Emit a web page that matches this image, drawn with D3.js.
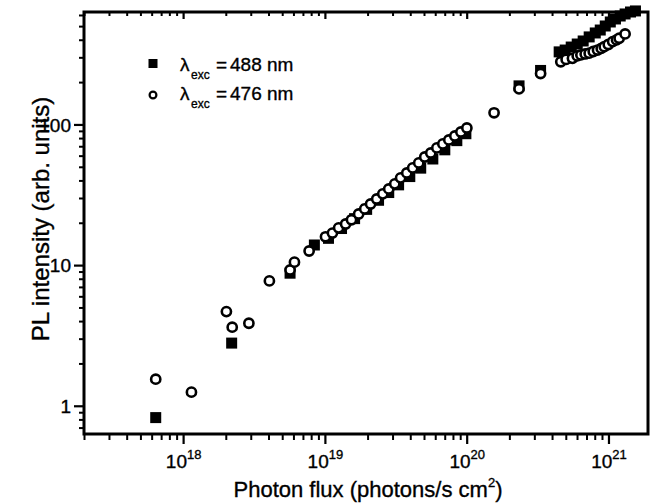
<!DOCTYPE html>
<html>
<head>
<meta charset="utf-8">
<script src="https://cdn.jsdelivr.net/npm/d3@7"></script>
<style>
body { margin: 0; background: #fff; }
svg text { font-family: "Liberation Sans", Arial, Helvetica, sans-serif; fill: #000; stroke: #000; stroke-width: 0.35px; }
</style>
</head>
<body>
<svg id="chart" width="653" height="504"></svg>
<script>
// lambda_exc = 488 nm (filled squares)
var flux488 = [6.41e17, 2.20e18, 5.68e18, 8.43e18, 1.06e19, 1.31e19, 1.62e19, 1.97e19, 2.39e19,
    2.82e19, 3.31e19, 3.97e19, 4.74e19, 5.77e19, 7.01e19, 8.52e19, 9.87e19, 2.34e20, 3.32e20,
    4.49e20, 4.95e20, 5.46e20, 6.02e20, 6.63e20, 7.31e20, 8.07e20, 8.75e20, 9.49e20, 1.03e21,
    1.12e21, 1.21e21, 1.31e21, 1.43e21, 1.55e21];
var pl488 = [0.824, 2.79, 8.76, 13.9, 15.5, 18.2, 21.4, 24.9, 28.9,
    32.8, 37.2, 42.6, 48.9, 56.8, 66.0, 76.7, 85.9, 188, 242,
    328, 338, 355, 373, 392, 419, 447, 469, 501, 535,
    562, 590, 610, 630, 641];

// lambda_exc = 476 nm (open circles)
var flux476 = [6.41e17, 1.145e18, 2.02e18, 2.22e18, 2.91e18, 4.06e18, 5.68e18, 6.10e18, 7.74e18,
    1.01e19, 1.13e19, 1.25e19, 1.40e19, 1.54e19, 1.73e19, 1.91e19, 2.10e19, 2.32e19, 2.56e19,
    2.82e19, 3.11e19, 3.42e19, 3.78e19, 4.16e19, 4.59e19, 5.06e19, 5.58e19, 6.16e19, 6.79e19,
    7.48e19, 8.25e19, 9.10e19, 1.003e20, 1.56e20, 2.34e20, 3.32e20,
    4.61e20, 5.03e20, 5.57e20, 6.02e20, 6.39e20, 6.85e20, 7.31e20, 7.81e20, 8.37e20,
    8.89e20, 9.34e20, 9.97e20, 1.07e21, 1.14e21, 1.19e21, 1.31e21];
var pl476 = [1.545, 1.25, 4.67, 3.62, 3.86, 7.72, 9.24, 10.5, 12.6,
    15.9, 16.9, 18.4, 19.6, 21.0, 23.1, 25.1, 27.2, 29.5, 32.1,
    34.8, 37.8, 41.7, 45.2, 49.1, 53.3, 58.7, 62.7, 68.1, 72.7,
    77.6, 82.8, 88.4, 94.4, 121, 179, 230,
    279, 290, 295, 307, 312, 317, 321, 330, 338,
    347, 357, 370, 388, 399, 410, 440];

var xMajorExps = [18, 19, 20, 21];
var yMajorTicks = [1, 10, 100];
var legendNames = ["488 nm", "476 nm"];

var svg = d3.select("#chart");
var plot = {left: 84, right: 648, top: 12, bottom: 434};

var x = d3.scaleLog().domain([2e17, 1.9e21]).range([plot.left, plot.right]);
var y = d3.scaleLog().domain([0.63, 630]).range([plot.bottom, plot.top]);

var xMajor = xMajorExps.map(function (e) { return Math.pow(10, e); });
var xMinor = x.ticks().filter(function (v) { return xMajor.indexOf(v) < 0; });
var yMinor = y.ticks().filter(function (v) { return yMajorTicks.indexOf(v) < 0; });

function styleTicks(g, w) {
    g.select(".domain").remove();
    g.selectAll(".tick line").attr("stroke", "#000").attr("stroke-width", w);
    g.selectAll(".tick text").remove();
}

// bottom axis, ticks outward
svg.append("g").attr("transform", "translate(0," + plot.bottom + ")")
    .call(d3.axisBottom(x).tickValues(xMinor).tickSize(6).tickFormat(""))
    .call(styleTicks, 2);
var bottomMajor = svg.append("g").attr("transform", "translate(0," + plot.bottom + ")")
    .call(d3.axisBottom(x).tickValues(xMajor).tickSize(10).tickFormat(""))
    .call(styleTicks, 2.2);
bottomMajor.selectAll(".tick").append("text")
    .attr("y", 34)
    .attr("text-anchor", "middle")
    .style("font-size", "19px")
    .each(function (d) {
        var t = d3.select(this);
        t.append("tspan").text("10");
        t.append("tspan").attr("dy", -9).style("font-size", "13px").text(Math.round(Math.log10(d)));
    });

// top axis mirrors the bottom one, ticks pointing in
svg.append("g").attr("transform", "translate(0," + plot.top + ")")
    .call(d3.axisBottom(x).tickValues(xMinor).tickSize(4).tickFormat(""))
    .call(styleTicks, 2);
svg.append("g").attr("transform", "translate(0," + plot.top + ")")
    .call(d3.axisBottom(x).tickValues(xMajor).tickSize(7).tickFormat(""))
    .call(styleTicks, 2.2);

// left axis, ticks outward
svg.append("g").attr("transform", "translate(" + plot.left + ",0)")
    .call(d3.axisLeft(y).tickValues(yMinor).tickSize(5).tickFormat(""))
    .call(styleTicks, 2);
var leftMajor = svg.append("g").attr("transform", "translate(" + plot.left + ",0)")
    .call(d3.axisLeft(y).tickValues(yMajorTicks).tickSize(10).tickFormat(""))
    .call(styleTicks, 2.2);
leftMajor.selectAll(".tick").append("text")
    .attr("x", -13)
    .attr("dy", "0.36em")
    .attr("text-anchor", "end")
    .style("font-size", "19px")
    .text(function (d) { return d; });

// frame
svg.append("rect")
    .attr("x", plot.left).attr("y", plot.top)
    .attr("width", plot.right - plot.left).attr("height", plot.bottom - plot.top)
    .attr("fill", "none").attr("stroke", "#000").attr("stroke-width", 3);

// data: squares first, circles over them
svg.append("g").selectAll("rect")
    .data(d3.zip(flux488, pl488))
  .enter().append("rect")
    .attr("x", function (d) { return x(d[0]) - 5.5; })
    .attr("y", function (d) { return y(d[1]) - 5.5; })
    .attr("width", 11).attr("height", 11)
    .attr("fill", "#000");

svg.append("g").selectAll("circle")
    .data(d3.zip(flux476, pl476))
  .enter().append("circle")
    .attr("cx", function (d) { return x(d[0]); })
    .attr("cy", function (d) { return y(d[1]); })
    .attr("r", 4.6)
    .attr("fill", "#fff")
    .attr("stroke", "#000")
    .attr("stroke-width", 2.6);

// legend
var legend = svg.append("g");
legend.append("rect").attr("x", 148.5).attr("y", 59).attr("width", 9).attr("height", 9).attr("fill", "#000");
legend.append("circle").attr("cx", 153).attr("cy", 95).attr("r", 3.4)
    .attr("fill", "#fff").attr("stroke", "#000").attr("stroke-width", 2.2);
legendNames.forEach(function (name, i) {
    var t = legend.append("text").attr("y", 71 + i * 29).style("font-size", "19px");
    t.append("tspan").attr("x", 180).text("\u03bb");
    t.append("tspan").attr("x", 191).attr("dy", 8).style("font-size", "12px").text("exc");
    t.append("tspan").attr("x", 216).attr("dy", -8).text("=");
    t.append("tspan").attr("x", 230).text(name);
});

// axis titles
var xTitle = svg.append("text")
    .attr("x", 368).attr("y", 497)
    .attr("text-anchor", "middle")
    .style("font-size", "22px");
xTitle.append("tspan").text("Photon flux (photons/s cm");
xTitle.append("tspan").attr("dy", -10).style("font-size", "13px").text("2");
xTitle.append("tspan").attr("dy", 10).text(")");

svg.append("text")
    .attr("transform", "translate(49,219) rotate(-90)")
    .attr("text-anchor", "middle")
    .style("font-size", "24px")
    .text("PL intensity (arb. units)");
</script>
</body>
</html>
